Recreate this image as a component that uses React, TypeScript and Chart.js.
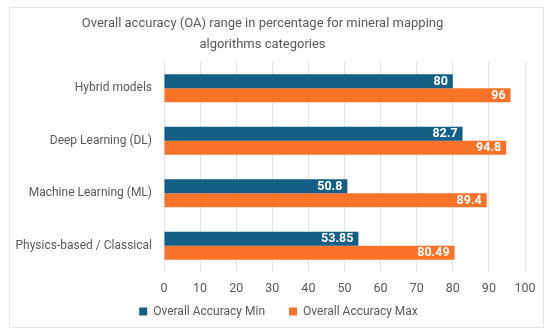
import React, { useEffect, useRef } from "react";
import { Chart, registerables } from "chart.js";

Chart.register(...registerables);

const categories = [
  "Hybrid models",
  "Deep Learning (DL)",
  "Machine Learning (ML)",
  "Physics-based / Classical",
];
const minValues = [80, 82.7, 50.8, 53.85];
const maxValues = [96, 94.8, 89.4, 80.49];
const minLabels = ["80", "82.7", "50.8", "53.85"];
const maxLabels = ["96", "94.8", "89.4", "80.49"];
const titleLines = [
  "Overall accuracy (OA) range in percentage for mineral mapping",
  "algorithms categories",
];

const FONT = "Roboto";
const TEXT = "#595959";

const frame = {
  id: "frame",
  afterLayout(chart: any) {
    const s = chart.scales.x;
    s.bottom = s.top + 30;
    if (chart.titleBlock) chart.titleBlock.right = 525;
    if (chart.legend) {
      chart.legend.left += 16;
      chart.legend.right += 16;
    }
  },
  beforeDraw(chart: any) {
    const c = chart.ctx;
    c.save();
    c.fillStyle = "#ffffff";
    c.fillRect(0, 0, chart.width, chart.height);
    c.strokeStyle = "#e6e6e6";
    c.lineWidth = 1;
    c.strokeRect(9.5, 7.5, 534, 320);
    c.restore();
  },
};

const valueLabels = {
  id: "valueLabels",
  afterDatasetsDraw(chart: any) {
    const c = chart.ctx;
    const lists = [minLabels, maxLabels];
    c.save();
    c.font = `bold 12.5px ${FONT}`;
    c.fillStyle = "#ffffff";
    c.textAlign = "right";
    c.textBaseline = "middle";
    chart.data.datasets.forEach((ds: any, di: number) => {
      const meta = chart.getDatasetMeta(di);
      meta.data.forEach((el: any, i: number) => {
        c.fillText(lists[di][i], el.x - 5, el.y + 0.5);
      });
    });
    c.restore();
  },
};

export default function App() {
  const ref = useRef<HTMLCanvasElement>(null);
  useEffect(() => {
    const chart = new Chart(ref.current!, {
      type: "bar",
      data: {
        labels: categories,
        datasets: [
          {
            label: "Overall Accuracy Min",
            data: minValues,
            backgroundColor: "#135F85",
            categoryPercentage: 0.533,
            barPercentage: 1,
          },
          {
            label: "Overall Accuracy Max",
            data: maxValues,
            backgroundColor: "#FB7329",
            categoryPercentage: 0.533,
            barPercentage: 1,
          },
        ],
      },
      options: {
        indexAxis: "y",
        responsive: false,
        animation: false,
        layout: { padding: { left: 0, right: 25, top: 0, bottom: 8.5 } },
        scales: {
          x: {
            min: 0,
            max: 100,
            ticks: {
              stepSize: 10,
              color: TEXT,
              font: { family: FONT, size: 12.5 },
              padding: 9.5,
            },
            grid: { color: "#e3e3e3", drawTicks: false },
            border: { display: false },
            afterFit(scale: any) {
              scale.height = 9.5;
            },
          },
          y: {
            ticks: {
              color: TEXT,
              font: { family: FONT, size: 12 },
              padding: 12,
            },
            grid: { display: false, drawTicks: false },
            border: { display: false },
            afterFit(scale: any) {
              scale.width = 164;
            },
          },
        },
        plugins: {
          title: {
            display: true,
            text: titleLines,
            color: TEXT,
            font: { family: FONT, size: 13, weight: "normal", lineHeight: 1.65 },
            padding: { top: 13, bottom: 6 },
          },
          legend: {
            position: "bottom",
            labels: {
              boxWidth: 8,
              boxHeight: 8,
              color: TEXT,
              font: { family: FONT, size: 12 },
              padding: 24,
            },
          },
          tooltip: { enabled: false },
        },
      },
      plugins: [frame, valueLabels],
    });
    return () => chart.destroy();
  }, []);
  return (
    <div style={{ position: "fixed", left: 0, top: 0, width: 550, height: 336 }}>
      <canvas ref={ref} width={550} height={336} />
    </div>
  );
}
